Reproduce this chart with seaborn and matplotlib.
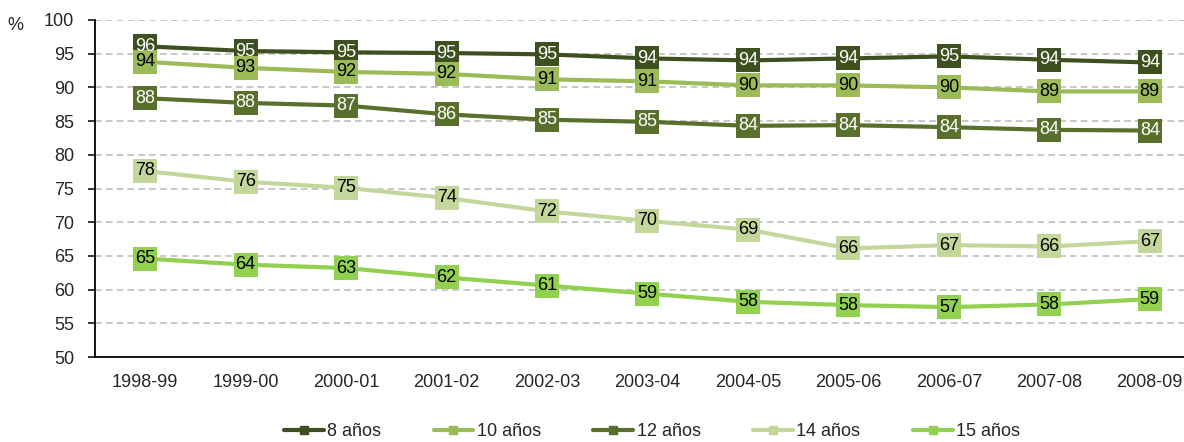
import seaborn as sns
import matplotlib.pyplot as plt
import pandas as pd

# school years and % of pupils in the expected grade, by age
years = ["1998-99", "1999-00", "2000-01", "2001-02", "2002-03", "2003-04",
         "2004-05", "2005-06", "2006-07", "2007-08", "2008-09"]
age_8 = [96.1, 95.4, 95.2, 95.1, 94.9, 94.3, 94.0, 94.3, 94.6, 94.1, 93.7]
age_10 = [93.8, 92.9, 92.3, 92.0, 91.2, 90.9, 90.3, 90.3, 90.0, 89.4, 89.4]
age_12 = [88.4, 87.7, 87.3, 86.0, 85.2, 84.9, 84.3, 84.4, 84.1, 83.7, 83.6]
age_14 = [77.6, 76.0, 75.1, 73.6, 71.6, 70.2, 68.9, 66.1, 66.6, 66.4, 67.2]
age_15 = [64.6, 63.7, 63.2, 61.8, 60.6, 59.4, 58.2, 57.7, 57.4, 57.8, 58.6]

series = ["8 años", "10 años", "12 años", "14 años", "15 años"]
colors = ["#3F5020", "#9BBB59", "#596F2C", "#C4D79B", "#92D050"]
text_colors = ["white", "black", "white", "black", "black"]

df = pd.DataFrame({"curso": years, "8 años": age_8, "10 años": age_10,
                   "12 años": age_12, "14 años": age_14, "15 años": age_15})
long = df.melt(id_vars="curso", var_name="edad", value_name="pct")

sns.set_style("white")
plt.rcParams["font.family"] = ["Liberation Sans", "DejaVu Sans"]

fig = plt.figure(figsize=(11.84, 4.42), dpi=100)
ax = fig.add_axes([95 / 1184, 1 - 357 / 442, 1105 / 1184, 337 / 442])

sns.lineplot(data=long, x="curso", y="pct", hue="edad", hue_order=series,
             palette=colors, marker="s", markersize=17, markeredgewidth=0,
             linewidth=3, sort=False, legend=False, ax=ax)

# value labels inside the square markers
for name, tc in zip(series, text_colors):
    for i, v in enumerate(df[name]):
        ax.text(i, v, f"{v:.0f}", ha="center", va="center", fontsize=13,
                color=tc, zorder=10)

ax.set_xlim(-0.5, 10.5)
ax.set_ylim(50, 100)
ax.set_yticks(range(50, 101, 5))
ax.yaxis.grid(True, color="#BFBFBF", linestyle=(0, (4, 2.5)), linewidth=1.2)
ax.set_axisbelow(True)
ax.set_xlabel("")
ax.set_ylabel("")
for s in ["top", "right"]:
    ax.spines[s].set_visible(False)
for s in ["left", "bottom"]:
    ax.spines[s].set_color("black")
    ax.spines[s].set_linewidth(1.3)

ax.set_xticks([i - 0.5 for i in range(12)], minor=True)
ax.tick_params(axis="x", which="major", length=0, pad=12, labelsize=13)
ax.tick_params(axis="x", which="minor", length=5, width=1.3, direction="out")
ax.tick_params(axis="y", length=5, width=1.3, direction="out", left=True,
               labelsize=13, pad=10)

fig.text(15 / 1184, 1 - 25 / 442, "%", fontsize=13, va="center", ha="center")

handles = [plt.Line2D([], [], color=c, linewidth=3, marker="s", markersize=6)
           for c in colors]
fig.legend(handles, series, loc="center", bbox_to_anchor=(652 / 1184, 1 - 432 / 442),
           ncol=5, frameon=False, fontsize=13, handlelength=2.2,
           columnspacing=2.9, handletextpad=0.2)

fig.savefig("out.png", dpi=100)
